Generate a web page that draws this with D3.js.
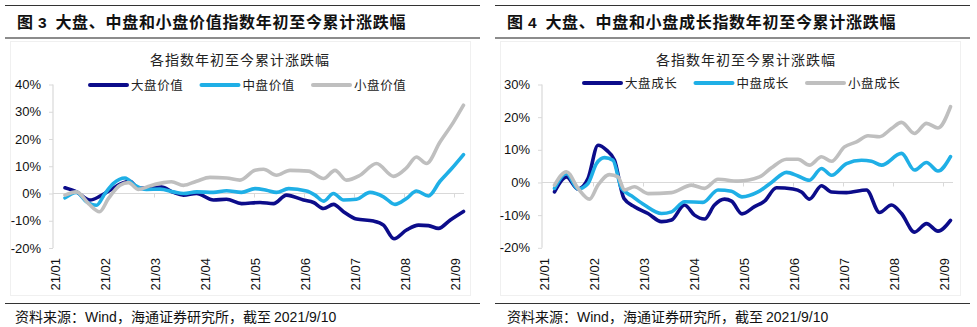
<!DOCTYPE html>
<html lang="zh">
<head>
  <meta charset="UTF-8">
  <style>
    html, body { margin: 0; padding: 0; background: #fff; }
    svg { display: block; }
    .cjk { font-family: "Noto Sans CJK SC", sans-serif; }
    .num { font-family: "Liberation Sans", Arial, sans-serif; }
    .rule { stroke: #333; stroke-width: 1; }
    .rule-thick { stroke: #8c8c8c; stroke-width: 2; }
    .axis-line { stroke: #d9d9d9; stroke-width: 1.2; }
    .tick-label { font-size: 13px; fill: #111; }
    .series { fill: none; stroke-width: 3.6; stroke-linejoin: round; stroke-linecap: round; }
  </style>
  <script src="https://d3js.org/d3.v7.min.js"></script>
</head>
<body>
  <svg id="chart" width="977" height="327"></svg>

  <script>
    // month labels on the x axis
    const months = ["21/01", "21/02", "21/03", "21/04", "21/05", "21/06", "21/07", "21/08", "21/09"];

    // y ticks, percent
    const valueTicks = [-20, -10, 0, 10, 20, 30, 40];
    const growthTicks = [-20, -10, 0, 10, 20, 30];

    const seriesNames = ["大盘", "中盘", "小盘"];
    const colors = ["#0c0c8a", "#1fafe6", "#bfbfbf"];

    // [month position, cumulative % change]
    const largeValue = [[0.22,2.1],[0.45,0.6],[0.72,-2.4],[0.92,-1.0],[1.12,1.2],[1.39,4.0],[1.52,4.5],[1.69,1.8],[1.92,2.1],[2.15,2.4],[2.39,0.4],[2.59,-0.6],[2.85,0],[3.19,-2.4],[3.45,-2.1],[3.75,-3.7],[4.12,-3.3],[4.39,-3.7],[4.65,-0.6],[4.99,-2.4],[5.19,-3.3],[5.39,-5.5],[5.59,-4.0],[5.79,-6.7],[6.05,-9.4],[6.39,-10.1],[6.59,-11.6],[6.8,-16.6],[7.05,-13.4],[7.29,-11.6],[7.49,-11.8],[7.69,-12.8],[7.92,-9.8],[8.19,-6.6]];
    const midValue = [[0.22,-1.6],[0.45,0.4],[0.65,-3.0],[0.85,-4.3],[1.02,0],[1.19,3.7],[1.42,5.7],[1.62,3.0],[1.85,1.5],[2.12,1.6],[2.39,0.6],[2.59,0],[2.85,0.6],[3.19,0.4],[3.45,1.0],[3.75,0.4],[4.02,1.8],[4.25,1.2],[4.45,0.4],[4.69,1.8],[5.05,0.9],[5.22,-0.6],[5.39,-2.8],[5.59,0],[5.79,-2.4],[6.05,-2.1],[6.32,0.4],[6.59,-1.2],[6.82,-4.0],[7.05,-1.8],[7.25,0.9],[7.49,-0.9],[7.72,4.5],[7.95,9.1],[8.19,14.3]];
    const smallValue = [[0.22,-0.6],[0.45,0.6],[0.69,-3.7],[0.91,-6.7],[1.09,-1.8],[1.32,3.0],[1.49,4.0],[1.69,1.5],[1.92,2.8],[2.19,4.0],[2.35,4.3],[2.59,3.0],[2.85,4.5],[3.12,5.9],[3.45,5.7],[3.72,4.9],[4.02,8.5],[4.19,8.9],[4.45,6.7],[4.72,8.5],[5.09,8.2],[5.39,5.5],[5.62,8.5],[5.85,4.9],[6.12,6.7],[6.45,11.0],[6.79,6.3],[7.05,9.4],[7.25,13.4],[7.45,11.0],[7.72,18.9],[7.99,26.2],[8.19,32.4]];

    const largeGrowth = [[0.23,-2.9],[0.47,1.7],[0.7,-2.0],[0.9,1.2],[1.1,11.4],[1.27,9.9],[1.43,6.8],[1.62,-4.9],[1.83,-7.4],[2.1,-9.5],[2.37,-12.0],[2.57,-11.5],[2.83,-6.9],[3.03,-10.0],[3.23,-11.2],[3.43,-6.9],[3.63,-5.1],[3.77,-5.7],[3.98,-9.6],[4.23,-7.4],[4.43,-5.7],[4.67,-1.6],[5.0,-2.0],[5.17,-2.9],[5.33,-5.1],[5.57,-1.0],[5.77,-2.9],[6.07,-3.1],[6.47,-2.3],[6.73,-9.2],[6.97,-6.9],[7.17,-9.5],[7.43,-15.2],[7.67,-12.6],[7.9,-14.9],[8.15,-11.6]];
    const midGrowth = [[0.23,-1.8],[0.47,2.8],[0.7,-2.0],[0.9,-0.3],[1.07,5.8],[1.23,7.6],[1.4,6.8],[1.57,-1.8],[1.8,-4.4],[2.03,-6.9],[2.37,-9.5],[2.57,-9.0],[2.83,-5.9],[3.2,-6.1],[3.5,-2.3],[3.77,-2.7],[3.98,-4.4],[4.3,-2.9],[4.57,0],[4.87,3.1],[5.1,2.0],[5.33,0.7],[5.57,4.3],[5.77,2.2],[6.07,5.8],[6.37,6.8],[6.57,6.5],[6.77,5.3],[7.17,8.9],[7.43,3.8],[7.67,6.1],[7.9,3.5],[8.15,7.9]];
    const smallGrowth = [[0.23,-0.8],[0.47,3.3],[0.7,-1.8],[0.93,-5.1],[1.1,-0.8],[1.33,2.4],[1.5,1.7],[1.63,-2.3],[1.83,-1.3],[2.1,-3.4],[2.57,-3.1],[2.97,-0.8],[3.23,-1.8],[3.5,1.0],[3.9,0.4],[4.33,1.7],[4.57,4.5],[4.87,7.1],[5.1,7.1],[5.33,5.3],[5.57,7.9],[5.77,6.5],[6.03,10.9],[6.27,12.4],[6.5,14.3],[6.73,14.0],[6.97,16.5],[7.17,18.4],[7.43,15.0],[7.67,18.1],[7.9,16.7],[8.15,23.2]];

    const svg = d3.select("#chart");

    function drawPanel(p) {
      const g = svg.append("g").attr("transform", `translate(${p.left},0)`);

      // top rule, title, thick rule
      g.append("line").attr("class", "rule").attr("x1", 5).attr("x2", 480).attr("y1", 5.5).attr("y2", 5.5);
      const title = g.append("text").attr("x", 17).attr("y", 28)
        .attr("class", "cjk").attr("font-size", 16).attr("font-weight", 700).attr("fill", "#111")
        .attr("letter-spacing", 0.7);
      title.append("tspan").text("图 ");
      title.append("tspan").attr("class", "num").attr("font-size", 15.5).text(p.num);
      title.append("tspan").attr("dx", 8).text(p.title);
      g.append("line").attr("class", "rule-thick").attr("x1", 5).attr("x2", 480).attr("y1", 38).attr("y2", 38);

      // faint chart-area frame
      g.append("rect").attr("x", 10.5).attr("y", 41.5).attr("width", 460).attr("height", 254)
        .attr("fill", "none").attr("stroke", "#f0f0f0");

      // chart subtitle
      g.append("text").attr("x", p.subX).attr("y", 65).attr("text-anchor", "middle")
        .attr("class", "cjk").attr("font-size", 14).attr("letter-spacing", 1).attr("fill", "#222")
        .text("各指数年初至今累计涨跌幅");

      const x = d3.scaleLinear().domain([0, 8.2]).range([p.x0, p.x0 + 410]);
      const y = d3.scaleLinear().domain([-20, p.yMax]).range([p.yBottom, 84.5]);

      // y axis
      const yAxis = g.append("g").attr("transform", `translate(${p.x0 - 1},0)`)
        .call(d3.axisLeft(y).tickValues(p.yTicks).tickSize(4).tickPadding(8).tickFormat(d => d + "%"));
      yAxis.select(".domain").attr("class", "axis-line").attr("fill", "none").attr("d", `M0,${y(p.yMax)}V${y(-20)}`);
      yAxis.selectAll(".tick line").attr("stroke", "#d9d9d9");
      yAxis.selectAll(".tick text").attr("class", "num tick-label").attr("font-size", null).attr("font-family", null);

      // x axis on the zero line
      const xAxis = g.append("g").attr("transform", `translate(0,${y(0)})`)
        .call(d3.axisBottom(x).tickValues(d3.range(1, months.length)).tickSize(4).tickFormat(""));
      xAxis.select(".domain").attr("class", "axis-line").attr("fill", "none").attr("d", `M${p.x0 - 1},0H${x(8.2)}`);
      xAxis.selectAll(".tick line").attr("stroke", "#d9d9d9");

      // rotated month labels at the bottom
      g.selectAll(".month").data(months).enter().append("text")
        .attr("class", "num tick-label month")
        .attr("transform", (d, i) => `translate(${x(i) + 1},258) rotate(-90)`)
        .attr("text-anchor", "end").attr("dy", "0.36em")
        .text(d => d);

      // series lines
      const line = d3.line().x(d => x(d[0])).y(d => y(d[1])).curve(d3.curveMonotoneX);
      p.series.forEach((s, i) => {
        g.append("path").attr("class", "series").attr("stroke", colors[i]).attr("d", line(s));
      });

      // legend
      const lg = g.selectAll(".legend").data(seriesNames).enter().append("g")
        .attr("transform", (d, i) => `translate(${p.legendX + i * 111.5},${p.legendY})`);
      lg.append("line").attr("x1", 0).attr("x2", 37).attr("y1", 0).attr("y2", 0)
        .attr("stroke", (d, i) => colors[i]).attr("stroke-width", 4).attr("stroke-linecap", "round");
      lg.append("text").attr("x", 41).attr("y", 4.5).attr("class", "cjk")
        .attr("font-size", 12.5).attr("letter-spacing", 0.6).attr("fill", "#222")
        .text(d => d + p.kind);

      // bottom rule and source
      g.append("line").attr("class", "rule").attr("x1", 5).attr("x2", 480).attr("y1", 303.5).attr("y2", 303.5);
      const src = g.append("text").attr("x", p.srcX).attr("y", 322).attr("class", "cjk")
        .attr("font-size", 14).attr("fill", "#111");
      src.append("tspan").text("资料来源：");
      src.append("tspan").attr("class", "num").text("Wind");
      src.append("tspan").text("，海通证券研究所，截至 ");
      src.append("tspan").attr("class", "num").text("2021/9/10");
    }

    drawPanel({
      left: 0, num: "3", title: "大盘、中盘和小盘价值指数年初至今累计涨跌幅", kind: "价值",
      subX: 240, x0: 54, yMax: 40, yBottom: 248, yTicks: valueTicks,
      legendX: 90, legendY: 85, srcX: 15,
      series: [largeValue, midValue, smallValue]
    });
    drawPanel({
      left: 490, num: "4", title: "大盘、中盘和小盘成长指数年初至今累计涨跌幅", kind: "成长",
      subX: 256, x0: 53, yMax: 30, yBottom: 247.8, yTicks: growthTicks,
      legendX: 94, legendY: 83, srcX: 17,
      series: [largeGrowth, midGrowth, smallGrowth]
    });
  </script>
</body>
</html>
